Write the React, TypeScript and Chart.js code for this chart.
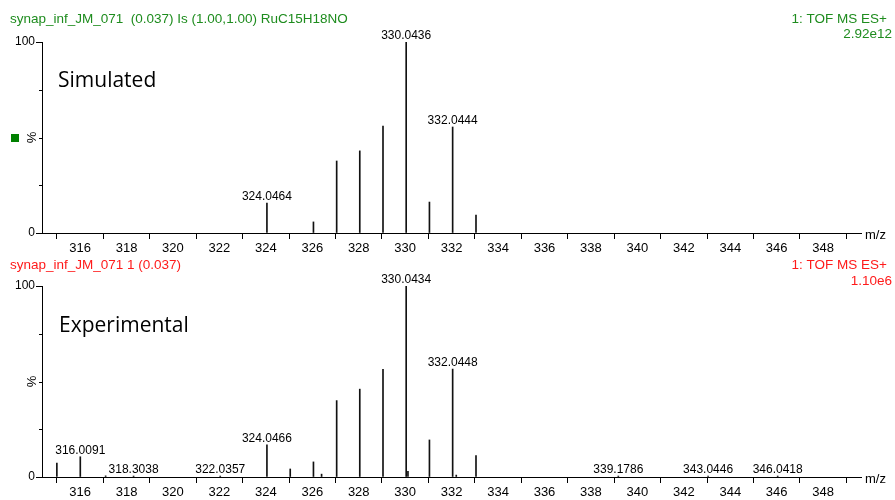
import React, { useEffect, useRef } from 'react';
import { Chart, registerables } from 'chart.js';
Chart.register(...registerables);

const FONT = "'Liberation Sans', Arial, sans-serif";
const TITLE_FONT = "'Open Sans', sans-serif";

// Simulated isotope pattern (m/z, relative intensity %)
const simMz = [324.0464, 326.05, 327.05, 328.045, 329.045, 330.0436, 331.045, 332.0444, 333.05];
const simInt = [15.7, 5.8, 37.7, 43, 56, 100, 16.2, 55.5, 9.4];
const simLabelMz = [324.0464, 330.0436, 332.0444];

// Experimental spectrum (m/z, relative intensity %)
const expMz = [315.0, 316.0091, 317.1, 318.3038, 322.0357, 324.0466, 325.05, 326.05, 326.4, 327.05, 328.045, 329.045, 330.0434, 330.12, 331.045, 332.0448, 332.2, 333.05, 339.1786, 343.0446, 346.0418];
const expInt = [7.3, 10.6, 0.6, 0.5, 0.5, 16.8, 4.2, 7.9, 1.5, 40, 46, 56.4, 100, 3, 19.4, 56.5, 1, 11.2, 0.5, 0.5, 0.5];
const expLabelMz = [316.0091, 318.3038, 322.0357, 324.0466, 330.0434, 332.0448, 339.1786, 343.0446, 346.0418];

const xTicks = [315, 316, 317, 318, 319, 320, 321, 322, 323, 324, 325, 326, 327, 328, 329, 330, 331, 332, 333, 334, 335, 336, 337, 338, 339, 340, 341, 342, 343, 344, 345, 346, 347, 348, 349];
const yTicks = [0, 100];
const yMinorTicks = [25, 50, 75];
const X_MIN = 314.36;
const X_MAX = 349.63;

type Panel = {
  mz: number[];
  int: number[];
  labels: number[];
  padTop: number;
  padBottom: number;
  color: string;
  headLeft: string;
  headRight1: string;
  headRight2: string;
  headY: number;
  head2Y: number;
  title: string;
  titleX: number;
  titleY: number;
  square: boolean;
};

function makePlugin(p: Panel) {
  return {
    id: 'annot',
    afterDraw(chart: any) {
      const ctx = chart.ctx as CanvasRenderingContext2D;
      const xs = chart.scales.x;
      const ys = chart.scales.y;
      ctx.save();
      // minor y ticks
      ctx.strokeStyle = '#000';
      ctx.lineWidth = 1;
      for (const v of yMinorTicks) {
        const py = Math.round(ys.getPixelForValue(v)) + 0.5;
        ctx.beginPath();
        ctx.moveTo(ys.right - 3, py);
        ctx.lineTo(ys.right, py);
        ctx.stroke();
      }
      // peak labels
      ctx.fillStyle = '#000';
      ctx.font = `12px ${FONT}`;
      ctx.textAlign = 'center';
      ctx.textBaseline = 'alphabetic';
      for (const m of p.labels) {
        const i = p.mz.indexOf(m);
        const px = xs.getPixelForValue(m);
        const py = ys.getPixelForValue(p.int[i]);
        ctx.fillText(m.toFixed(4), px, py - 3);
      }
      // headers
      ctx.fillStyle = p.color;
      ctx.font = `13.5px ${FONT}`;
      ctx.textBaseline = 'middle';
      ctx.textAlign = 'left';
      ctx.fillText(p.headLeft, 10, p.headY);
      ctx.textAlign = 'right';
      ctx.fillText(p.headRight1, 887, p.headY);
      ctx.fillText(p.headRight2, 892, p.head2Y);
      // m/z
      ctx.fillStyle = '#000';
      ctx.font = `13px ${FONT}`;
      ctx.textAlign = 'left';
      ctx.fillText('m/z', 865, xs.top + 2);
      // %
      const midY = (ys.top + ys.bottom) / 2;
      ctx.save();
      ctx.translate(32, midY);
      ctx.rotate(-Math.PI / 2);
      ctx.textAlign = 'center';
      ctx.font = `13px ${FONT}`;
      ctx.fillText('%', 0, 0);
      ctx.restore();
      if (p.square) {
        ctx.fillStyle = '#008000';
        ctx.fillRect(11, Math.round(midY) - 4, 8, 8);
      }
      // panel title
      ctx.fillStyle = '#000';
      ctx.font = `21px ${TITLE_FONT}`;
      ctx.textAlign = 'left';
      ctx.textBaseline = 'alphabetic';
      ctx.fillText(p.title, p.titleX, p.titleY);
      ctx.restore();
    },
  };
}

function makeChart(canvas: HTMLCanvasElement, p: Panel) {
  return new Chart(canvas, {
    type: 'bar',
    data: {
      datasets: [
        {
          data: p.mz.map((x, i) => ({ x, y: p.int[i] })),
          backgroundColor: '#111',
          borderWidth: 0,
          barThickness: 1,
          grouped: false,
        } as any,
      ],
    },
    options: {
      animation: false,
      responsive: false,
      devicePixelRatio: 1,
      events: [],
      layout: { padding: { top: p.padTop, bottom: p.padBottom, left: 0, right: 34 } },
      plugins: { legend: { display: false }, tooltip: { enabled: false } },
      scales: {
        x: {
          type: 'linear',
          min: X_MIN,
          max: X_MAX,
          offset: false,
          afterBuildTicks: (s: any) => {
            s.ticks = xTicks.map((v) => ({ value: v }));
          },
          afterFit: (s: any) => {
            s.height = 22;
          },
          ticks: {
            autoSkip: false,
            maxRotation: 0,
            minRotation: 0,
            padding: 2,
            color: '#000',
            font: { family: FONT, size: 13 },
            callback: (v: any) => (Number(v) % 2 === 0 ? String(v) : ''),
          },
          grid: {
            drawOnChartArea: false,
            drawTicks: true,
            tickLength: 6,
            offset: false,
            tickColor: (c: any) => (c.tick && c.tick.value % 2 ? '#000' : 'rgba(0,0,0,0)'),
          },
          border: { display: true, color: '#000', width: 1 },
        },
        y: {
          type: 'linear',
          min: 0,
          max: 100,
          afterBuildTicks: (s: any) => {
            s.ticks = yTicks.map((v) => ({ value: v }));
          },
          afterFit: (s: any) => {
            s.width = 42;
          },
          ticks: { padding: 1, color: '#000', font: { family: FONT, size: 12 } },
          grid: { drawOnChartArea: false, tickLength: 6, tickColor: '#000' },
          border: { display: true, color: '#000', width: 1 },
        },
      },
    } as any,
    plugins: [makePlugin(p)],
  });
}

const topPanel: Panel = {
  mz: simMz,
  int: simInt,
  labels: simLabelMz,
  padTop: 42,
  padBottom: 245,
  color: '#1e8c1e',
  headLeft: 'synap_inf_JM_071  (0.037) Is (1.00,1.00) RuC15H18NO',
  headRight1: '1: TOF MS ES+',
  headRight2: '2.92e12',
  headY: 19,
  head2Y: 34,
  title: 'Simulated',
  titleX: 58,
  titleY: 87,
  square: true,
};

const bottomPanel: Panel = {
  mz: expMz,
  int: expInt,
  labels: expLabelMz,
  padTop: 286,
  padBottom: 1,
  color: '#ff1a1a',
  headLeft: 'synap_inf_JM_071 1 (0.037)',
  headRight1: '1: TOF MS ES+',
  headRight2: '1.10e6',
  headY: 265,
  head2Y: 281,
  title: 'Experimental',
  titleX: 59,
  titleY: 332,
  square: false,
};

export default function App() {
  const topRef = useRef<HTMLCanvasElement>(null);
  const botRef = useRef<HTMLCanvasElement>(null);
  useEffect(() => {
    const a = makeChart(topRef.current!, topPanel);
    const b = makeChart(botRef.current!, bottomPanel);
    return () => {
      a.destroy();
      b.destroy();
    };
  }, []);
  const st: React.CSSProperties = { position: 'absolute', left: 0, top: 0, width: 895, height: 500 };
  return (
    <div style={{ position: 'absolute', left: 0, top: 0, width: 895, height: 500, background: '#fff' }}>
      <canvas ref={topRef} width={895} height={500} style={st} />
      <canvas ref={botRef} width={895} height={500} style={st} />
    </div>
  );
}
